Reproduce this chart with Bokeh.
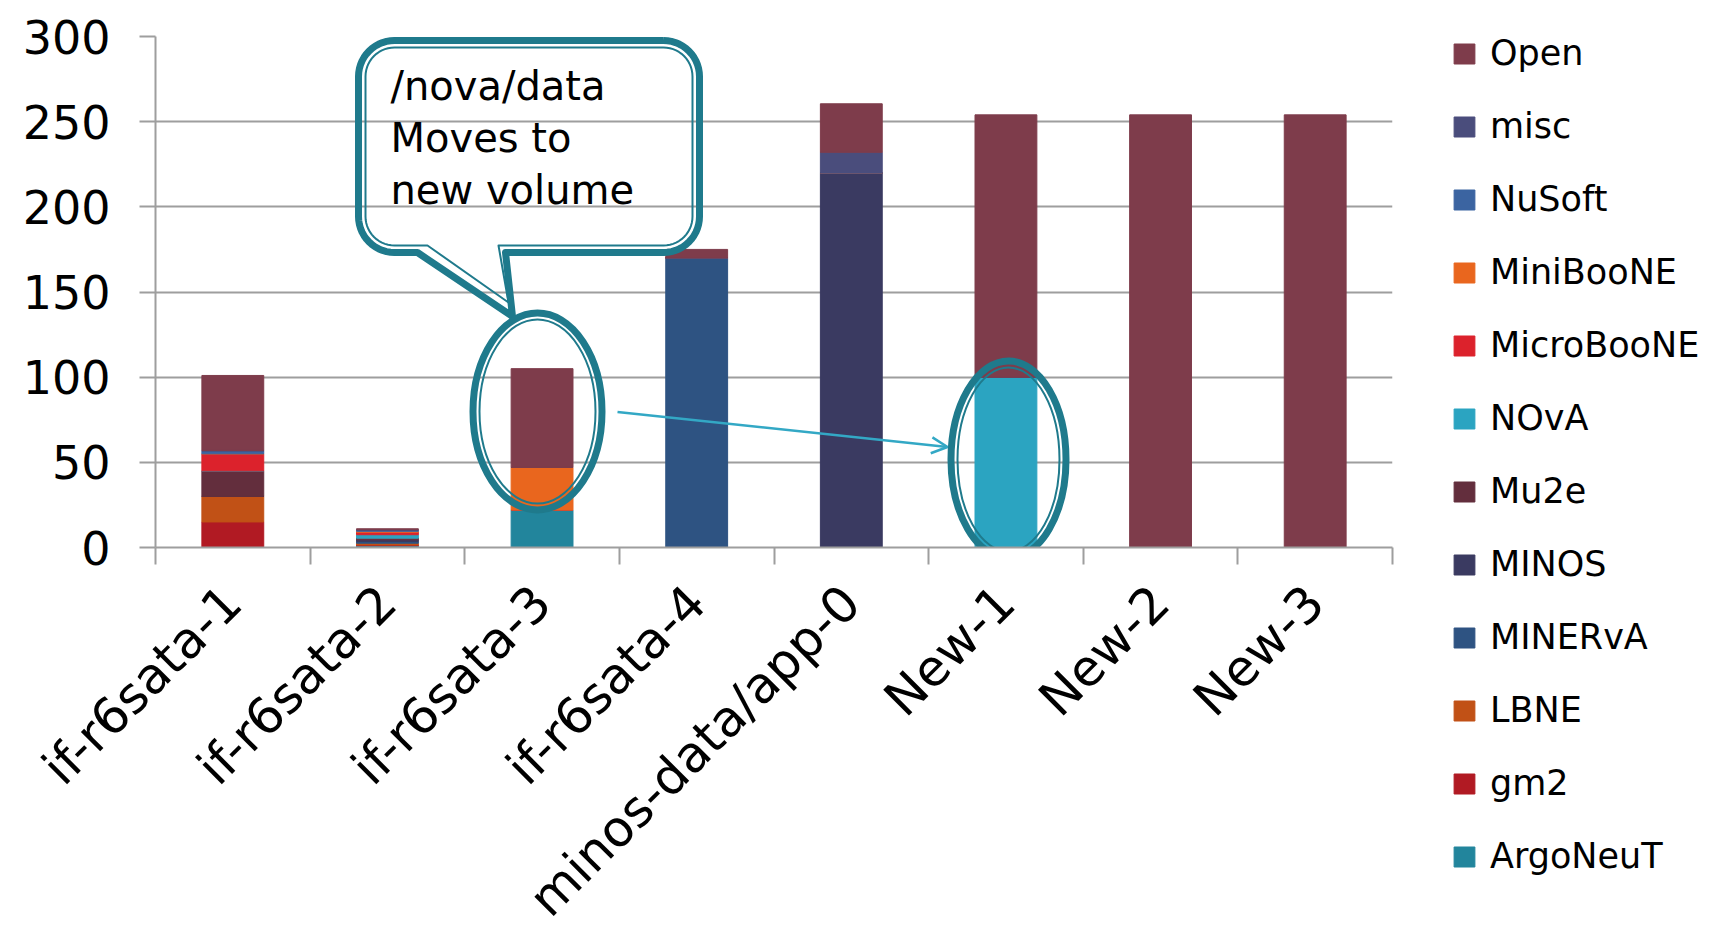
import math
from bokeh.plotting import figure
from bokeh.models import Range1d, FixedTicker, Legend, LegendItem, Arrow, OpenHead, ColumnDataSource
from bokeh.core.properties import value
from bokeh.embed import file_html
from bokeh.resources import INLINE

# ---------------- data ----------------
servers = ["if-r6sata-1", "if-r6sata-2", "if-r6sata-3", "if-r6sata-4",
           "minos-data/app-0", "New-1", "New-2", "New-3"]

argoneut   = [0.0, 1.0, 22.0, 0.0, 0.0, 0.0, 0.0, 0.0]
gm2        = [15.0, 0.5, 0.0, 0.0, 0.0, 0.0, 0.0, 0.0]
lbne       = [15.0, 1.0, 0.0, 0.0, 0.0, 0.0, 0.0, 0.0]
minerva    = [0.0, 1.0, 0.0, 170.0, 0.0, 0.0, 0.0, 0.0]
minos      = [0.0, 1.0, 0.0, 0.0, 220.0, 0.0, 0.0, 0.0]
mu2e       = [15.0, 1.0, 0.0, 0.0, 0.0, 0.0, 0.0, 0.0]
nova       = [0.0, 2.0, 0.0, 0.0, 0.0, 100.0, 0.0, 0.0]
microboone = [10.0, 1.5, 0.0, 0.0, 0.0, 0.0, 0.0, 0.0]
miniboone  = [0.0, 0.5, 25.0, 0.0, 0.0, 0.0, 0.0, 0.0]
nusoft     = [1.5, 0.5, 0.0, 0.0, 0.0, 0.0, 0.0, 0.0]
misc       = [0.5, 0.5, 0.0, 0.0, 12.0, 0.0, 0.0, 0.0]
open_space = [44.0, 0.5, 58.0, 5.0, 28.5, 154.0, 254.0, 254.0]

y_ticks = [0, 50, 100, 150, 200, 250, 300]

groups = ["ArgoNeuT", "gm2", "LBNE", "MINERvA", "MINOS", "Mu2e", "NOvA",
          "MicroBooNE", "MiniBooNE", "NuSoft", "misc", "Open"]
series = [argoneut, gm2, lbne, minerva, minos, mu2e, nova,
          microboone, miniboone, nusoft, misc, open_space]
colors = ["#22859C", "#B11A23", "#C15116", "#2E5382", "#3A3A61", "#632E3D",
          "#2BA4C1", "#DC222C", "#E9661E", "#3B64A1", "#4A4D7C", "#7E3C4B"]

callout_lines = ["/nova/data", "Moves to", "new volume"]

# ---------------- styling / layout ----------------
FONT = "DejaVu Sans"
GRID = "#9E9E9E"
TEAL = "#1F7A8C"
ARROWC = "#33A8C5"

FRAME_W, FRAME_H = 1237, 511
LEFT, TOP = 155, 36
PAGE_X0, PAGE_Y0 = LEFT, TOP + FRAME_H   # page pixel of (x=0, y=0)
RIGHT_EDGE = PAGE_X0 + FRAME_W
ncat = len(servers)
y_max = 300
kx = FRAME_W / ncat
ky = FRAME_H / y_max

def dx(px):
    return (px - PAGE_X0) / kx

def dy(py):
    return (PAGE_Y0 - py) / ky

x_pos = [i + 0.5 for i in range(ncat)]
data = dict(x=x_pos)
for g, s in zip(groups, series):
    data[g] = s
source = ColumnDataSource(data)

p = figure(frame_width=FRAME_W, frame_height=FRAME_H,
           x_range=Range1d(0, ncat), y_range=Range1d(0, y_max),
           output_backend="svg", toolbar_location=None,
           min_border_left=LEFT, min_border_top=TOP,
           min_border_right=320, min_border_bottom=330)
p.outline_line_color = None
p.background_fill_color = "white"
p.xgrid.visible = False
p.ygrid.ticker = FixedTicker(ticks=y_ticks)
p.ygrid.grid_line_color = GRID
p.ygrid.grid_line_width = 2

renderers = p.vbar_stack(groups, x="x", width=0.4, color=colors, source=source)

# y axis
ya = p.yaxis[0]
ya.ticker = FixedTicker(ticks=y_ticks)
ya.axis_line_color = GRID
ya.axis_line_width = 2
ya.major_tick_line_color = GRID
ya.major_tick_line_width = 2
ya.major_tick_out = 16
ya.major_tick_in = 0
ya.minor_tick_line_color = None
ya.major_label_text_font = FONT
ya.major_label_text_font_size = "46px"
ya.major_label_text_color = "black"
ya.major_label_standoff = 29

# x axis
xa = p.xaxis[0]
xa.ticker = FixedTicker(ticks=x_pos, minor_ticks=list(range(ncat + 1)))
xa.major_label_overrides = {x: s for x, s in zip(x_pos, servers)}
xa.axis_line_color = GRID
xa.axis_line_width = 2
xa.major_tick_line_color = None
xa.major_tick_out = 17
xa.major_tick_in = 0
xa.minor_tick_line_color = GRID
xa.minor_tick_line_width = 2
xa.minor_tick_out = 17
xa.minor_tick_in = 0
xa.major_label_orientation = math.pi / 4
xa.major_label_text_font = FONT
xa.major_label_text_font_size = "50px"
xa.major_label_text_color = "black"
xa.major_label_standoff = 30

# ---------------- annotations ----------------
def callout_path(L, T, R, B, r, xl, xr, tip, n=14):
    pts = []
    def arc(cx, cy, a0, a1):
        for k in range(n + 1):
            a = a0 + (a1 - a0) * k / n
            pts.append((cx + r * math.cos(a), cy + r * math.sin(a)))
    arc(R - r, T + r, -math.pi / 2, 0)
    arc(R - r, B - r, 0, math.pi / 2)
    pts += [(xr, B), tip, (xl, B)]
    arc(L + r, B - r, math.pi / 2, math.pi)
    arc(L + r, T + r, math.pi, 1.5 * math.pi)
    pts.append(pts[0])
    return [dx(a) for a, b in pts], [dy(b) for a, b in pts]

ox, oy = callout_path(358, 40, 699, 252, 36, 417, 505, (512, 316))
ix, iy = callout_path(365, 47, 692, 245, 29, 427, 498, (508, 302))
p.line(ox, oy, line_color=TEAL, line_width=7, line_join="round")
p.line(ix, iy, line_color=TEAL, line_width=2, line_join="round")

text_x = [dx(390)] * 3
text_y = [dy(85), dy(137), dy(189)]
p.text(x=text_x, y=text_y, text=callout_lines, text_font=value(FONT),
       text_font_size="40px", text_color="black",
       text_align="left", text_baseline="alphabetic")

# ellipses (outer thick ring + thin inner ring)
ell_x = [dx(537), dx(1008)]
ell_y = [dy(411), dy(459)]
p.ellipse(x=ell_x, y=ell_y, width=[129, 115], height=[197, 197],
          width_units="screen", height_units="screen",
          fill_color=None, line_color=TEAL, line_width=7)
p.ellipse(x=ell_x, y=ell_y, width=[116, 102], height=[184, 184],
          width_units="screen", height_units="screen",
          fill_color=None, line_color=TEAL, line_width=2)

p.add_layout(Arrow(end=OpenHead(size=16, line_color=ARROWC, line_width=2.5),
                   x_start=dx(617), y_start=dy(411.5),
                   x_end=dx(947), y_end=dy(446.5),
                   line_color=ARROWC, line_width=2.5))

# ---------------- legend ----------------
items = [LegendItem(label=g, renderers=[renderers[i]])
         for i, g in reversed(list(enumerate(groups)))]
legend = Legend(items=items, location=(1451 - RIGHT_EDGE, PAGE_Y0 - 879),
                label_text_font=FONT, label_text_font_size="35px",
                label_text_color="black",
                glyph_width=26, glyph_height=25, label_height=46,
                spacing=27, padding=0, margin=0, label_standoff=13,
                border_line_color=None, background_fill_alpha=0)
p.add_layout(legend, "right")

open("out.html", "w").write(file_html(p, INLINE))
